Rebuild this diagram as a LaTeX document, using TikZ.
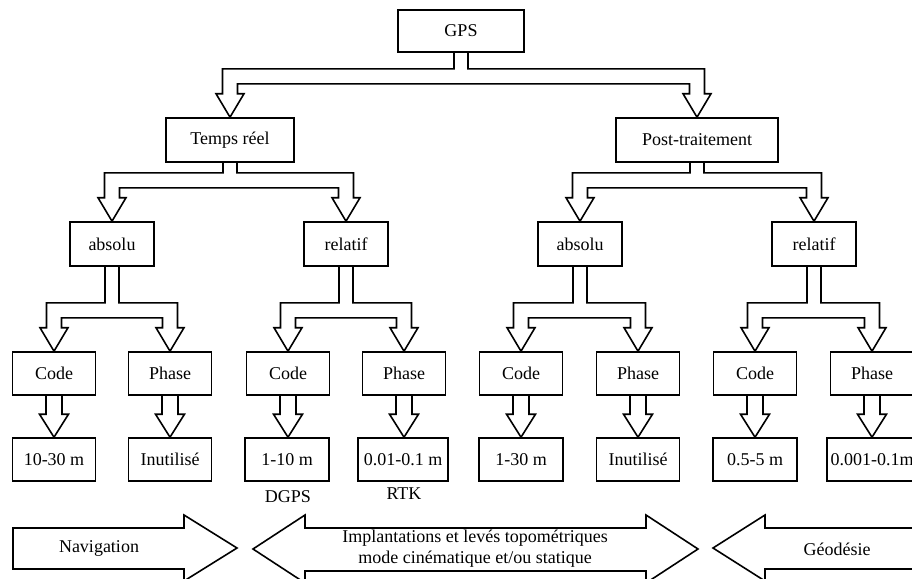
\documentclass[tikz,border=0pt]{standalone}
\usepackage{fontspec}
\setmainfont{Liberation Serif}
\usetikzlibrary{calc}
\tikzset{
  box/.style={draw, line width=1.6pt, align=center, inner sep=2pt, minimum width=83pt, minimum height=43pt},
  fork/.style={draw, line width=1.6pt, line join=miter},
  bigarrow/.style={draw, line width=1.6pt, line join=miter},
  tag/.style={align=center},
}
\begin{document}
\begin{tikzpicture}[x=1pt, y=-1pt, font=\fontsize{18}{21}\selectfont]
  \useasboundingbox[fill=white] (0,0) rectangle (912,578);
  % top of the tree
  \node[box, minimum width=126pt, minimum height=42pt] (gps) at (461,31) {GPS};
  \node[box, minimum width=128pt, minimum height=44pt] (tr) at (230,140) {Temps réel};
  \node[box, minimum width=162pt, minimum height=44pt] (pt) at (697,140) {Post-traitement};
  % absolu / relatif
  \foreach \nm/\cx/\txt in {tra/112/absolu, trr/346/relatif, pta/580/absolu, ptr/814/relatif}
    \node[box, minimum width=84pt, minimum height=44pt] (\nm) at (\cx,244) {\txt};
  % Code / Phase
  \foreach \nm/\cx/\txt in {trac/54/Code, trap/170/Phase, trrc/288/Code, trrp/404/Phase,
      ptac/521/Code, ptap/638/Phase, ptrc/755/Code, ptrp/872/Phase}
    \node[box] (\nm) at (\cx,373.5) {\txt};
  % precision reached
  \foreach \nm/\cx/\bw/\txt in {trac/54/83/10-30 m, trap/170/83/Inutilisé, trrc/287/84/1-10 m,
      trrp/403/90/0.01-0.1 m, ptac/521/84/1-30 m, ptap/638/83/Inutilisé, ptrc/755/84/0.5-5 m,
      ptrp/872/90/0.001-0.1m}
    \node[box, minimum width=\bw pt] (\nm-v) at (\cx,459.5) {\txt};
  \node[tag] (dgps) at (288,497) {DGPS};
  \node[tag] (rtk) at (404,494) {RTK};
  % hollow forks, parent to two children
  \foreach \src/\lft/\rgt/\dd in {gps/tr/pt/16, tr/tra/trr/10, pt/pta/ptr/10, tra/trac/trap/36,
      trr/trrc/trrp/36, pta/ptac/ptap/36, ptr/ptrc/ptrp/36}
    \draw[fork] let \p1=(\src.south), \p2=(\lft.north), \p3=(\rgt.north) in
      (\x1-7pt,\y1) |- (\x2-7.5pt,\y1-\dd*1pt) -- (\x2-7.5pt,\y2+23.5pt) -- (\x2-14pt,\y2+23.5pt)
      -- (\x2,\y2) -- (\x2+14pt,\y2+23.5pt) -- (\x2+7.5pt,\y2+23.5pt)
      |- (\x3-7.5pt,\y1-\dd*1pt-15pt) -- (\x3-7.5pt,\y3+23.5pt) -- (\x3-14pt,\y3+23.5pt)
      -- (\x3,\y3) -- (\x3+14pt,\y3+23.5pt) -- (\x3+7.5pt,\y3+23.5pt)
      |- (\x1+7pt,\y1-\dd*1pt) -- (\x1+7pt,\y1);
  % hollow arrows, Code/Phase to precision
  \foreach \src in {trac, trap, trrc, trrp, ptac, ptap, ptrc, ptrp}
    \draw[fork] let \p1=(\src.south), \p2=(\src-v.north) in
      (\x1-8pt,\y1) -- (\x1-8pt,\y2+23pt) -- (\x1-14.5pt,\y2+23pt) -- (\x1,\y2)
      -- (\x1+14.5pt,\y2+23pt) -- (\x1+8pt,\y2+23pt) -- (\x1+8pt,\y1);
  % fields of use
  \draw[bigarrow] (13,528) -- (184,528) -- (184,515) -- (237,548) -- (184,581) -- (184,569) -- (13,569) -- cycle;
  \node (nav) at (99,548) {Navigation};
  \draw[bigarrow] (253,549) -- (305,515) -- (305,528) -- (646,528) -- (646,515) -- (698,549)
    -- (646,583) -- (646,571) -- (305,571) -- (305,583) -- cycle;
  \node[tag] (topo) at (475,549) {Implantations et levés topométriques\\mode cinématique et/ou statique};
  \draw[bigarrow] (713,548) -- (765,515) -- (765,528) -- (930,528) -- (930,569) -- (765,569) -- (765,581) -- cycle;
  \node (geo) at (837,549) {Géodésie};
\end{tikzpicture}
\end{document}
